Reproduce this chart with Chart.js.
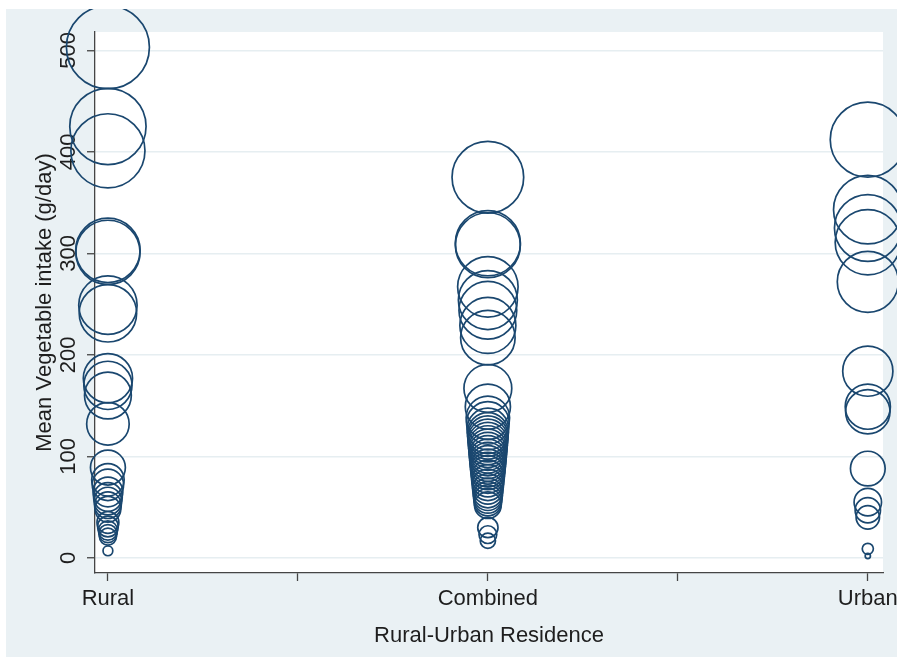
<!DOCTYPE html>
<html>
<head>
<meta charset="utf-8">
<script src="https://cdn.jsdelivr.net/npm/chart.js@4.4.0/dist/chart.umd.min.js"></script>
<style>
  html, body { margin: 0; padding: 0; background: #ffffff; }
  canvas { display: block; }
</style>
</head>
<body>
<canvas id="chart" width="897" height="658"></canvas>
<script>
// Residence groups and where they sit on the x axis
const categories = ['Rural', 'Combined', 'Urban'];
const categoryPositions = [1, 2, 3];
const xTickValues = [1, 1.5, 2, 2.5, 3];
const yTickValues = [0, 100, 200, 300, 400, 500];

// Mean vegetable intake (g/day) per study, by residence
const ruralIntake = [503, 425, 401, 303, 301, 249, 241, 177, 170, 160, 132, 89, 77, 72, 65, 60, 56, 52, 48, 35, 31, 27, 24, 21, 7];
const combinedIntake = [375, 310, 308, 267, 254, 244, 229, 217, 167, 149, 138, 133, 127, 123, 120, 117, 114, 111, 108, 105, 102, 99, 96, 93, 90, 87, 84, 80, 76, 72, 68, 64, 61, 58, 55, 52, 30, 23, 17];
const urbanIntake = [412, 343, 325, 311, 272, 184, 149, 144, 88, 55, 47, 40, 9, 2];

const seriesByCategory = [ruralIntake, combinedIntake, urbanIntake];

const NAVY = '#1a476f';
const TEXT = '#1e1e1e';
const AXIS = '#454545';
const FONT = "'Liberation Sans', Arial, Helvetica, sans-serif";

// bubble area weighted by intake
const bubbleRadius = ctx => 1.85 * Math.sqrt(Math.max(ctx.raw.y, 0));

const datasets = categories.map((name, i) => ({
  label: name,
  data: seriesByCategory[i].map(v => ({ x: categoryPositions[i], y: v })),
  backgroundColor: 'rgba(0,0,0,0)',
  borderColor: NAVY,
  borderWidth: 1.7,
  radius: bubbleRadius,
  hoverRadius: 0,
  clip: { left: 89, top: 23, right: 14, bottom: 84 }
}));

// light graph region with a white plot area inside it
const backdrop = {
  id: 'backdrop',
  beforeDraw(chart) {
    const { ctx, chartArea: a, width, height } = chart;
    ctx.save();
    ctx.fillStyle = '#ffffff';
    ctx.fillRect(0, 0, width, height);
    ctx.fillStyle = '#eaf1f4';
    ctx.fillRect(6, 9, width - 6, height - 10);
    ctx.fillStyle = '#ffffff';
    ctx.fillRect(a.left, a.top, a.right - a.left, a.bottom - a.top);
    ctx.restore();
  }
};

const labelFor = v => {
  const idx = categoryPositions.indexOf(v);
  return idx >= 0 ? categories[idx] : '';
};

new Chart(document.getElementById('chart'), {
  type: 'bubble',
  data: { datasets },
  options: {
    responsive: false,
    devicePixelRatio: 1,
    animation: false,
    events: [],
    layout: { autoPadding: false, padding: { left: 6, top: 32, right: 14, bottom: 1 } },
    plugins: {
      legend: { display: false },
      tooltip: { enabled: false }
    },
    scales: {
      x: {
        type: 'linear',
        min: 0.966,
        max: 3.04,
        afterBuildTicks: s => { s.ticks = xTickValues.map(v => ({ value: v })); },
        afterFit: s => { s.height = 84; s.paddingLeft = 0; s.paddingRight = 0; },
        grid: {
          drawOnChartArea: false,
          drawTicks: true,
          tickLength: 8,
          tickColor: AXIS,
          tickWidth: 1.3
        },
        border: { display: true, color: AXIS, width: 1.3 },
        ticks: {
          autoSkip: false,
          maxRotation: 0,
          padding: 5,
          color: TEXT,
          font: { family: FONT, size: 22 },
          callback: v => labelFor(v)
        },
        title: {
          display: true,
          text: 'Rural-Urban Residence',
          color: TEXT,
          font: { family: FONT, size: 22 },
          padding: { top: 0, bottom: 8 }
        }
      },
      y: {
        type: 'linear',
        min: -14.8,
        max: 518,
        afterBuildTicks: s => { s.ticks = yTickValues.map(v => ({ value: v })); },
        afterFit: s => { s.width = 89; s.paddingTop = 0; s.paddingBottom = 0; },
        grid: {
          color: '#e6eef1',
          lineWidth: 1.5,
          drawTicks: true,
          tickLength: 8,
          tickColor: AXIS,
          tickWidth: 1.3
        },
        border: { display: true, color: AXIS, width: 1.3 },
        ticks: {
          autoSkip: false,
          minRotation: 90,
          maxRotation: 90,
          crossAlign: 'center',
          padding: 0,
          color: TEXT,
          font: { family: FONT, size: 22 },
          callback: v => String(v)
        },
        title: {
          display: true,
          text: 'Mean Vegetable intake (g/day)',
          color: TEXT,
          font: { family: FONT, size: 22 },
          padding: { top: 26, bottom: 0 }
        }
      }
    }
  },
  plugins: [backdrop]
});
</script>
</body>
</html>
